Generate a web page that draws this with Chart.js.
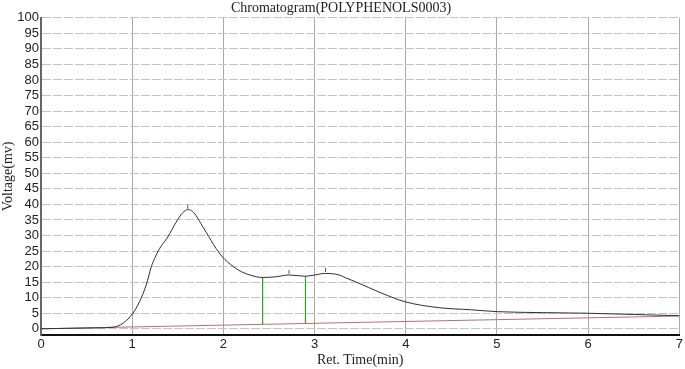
<!DOCTYPE html>
<html>
<head>
<meta charset="utf-8">
<script src="https://cdn.jsdelivr.net/npm/chart.js@4/dist/chart.umd.min.js"></script>
<style>
  html, body { margin: 0; padding: 0; background: #fff; }
  #wrap { width: 685px; height: 369px; }
</style>
</head>
<body>
<div id="wrap"><canvas id="chrom"></canvas></div>
<script>
// signal
var retTime = [0, 0.3, 0.6, 0.79, 0.9, 1.008, 1.08, 1.154, 1.209, 1.245, 1.30, 1.39, 1.482, 1.554, 1.609, 1.65, 1.70, 1.77, 1.81, 1.92, 1.99, 2.045, 2.17, 2.30, 2.43, 2.57, 2.72, 2.90, 3.00, 3.12, 3.27, 3.34, 3.45, 3.59, 3.74, 3.99, 4.36, 4.72, 5.01, 5.5, 5.99, 6.5, 7.0];
var voltage = [0, 0.15, 0.3, 0.5, 1.8, 5.0, 8.7, 14.1, 19.9, 22.6, 25.8, 29.5, 34.3, 37.3, 38.3, 38.0, 36.4, 33.0, 31.1, 25.8, 23.1, 21.5, 18.8, 17.2, 16.5, 16.7, 17.3, 16.9, 17.3, 17.8, 17.3, 16.4, 15.1, 13.3, 11.4, 8.7, 6.8, 6.1, 5.5, 5.2, 5.0, 4.6, 4.2];

// integration baseline
var baseTime = [0, 7];
var baseVolt = [0, 4.1];

// peak drop lines
var dropTime = [2.43, 2.90];
var dropLow = [1.4, 1.7];
var dropHigh = [16.5, 16.9];

// peak apex markers
var apexTime = [1.609, 2.72, 3.12];
var apexVolt = [39.2, 18.3, 18.9];

var yTicks = [];
for (let v = 0; v <= 100; v += 5) yTicks.push(v);

function pts(xs, ys) {
    return xs.map(function (x, i) { return { x: x, y: ys[i] }; });
}

var datasets = [
    {
        data: pts(retTime, voltage),
        borderColor: "#303030",
        borderWidth: 1,
        pointRadius: 0,
        cubicInterpolationMode: "monotone",
        order: 1
    },
    {
        data: pts(baseTime, baseVolt),
        borderColor: "#b87070",
        borderWidth: 1,
        pointRadius: 0,
        order: 2
    }
];
for (let i = 0; i < dropTime.length; i++) {
    datasets.push({
        data: [{ x: dropTime[i], y: dropLow[i] }, { x: dropTime[i], y: dropHigh[i] }],
        borderColor: "#22aa22",
        backgroundColor: "#22aa22",
        borderWidth: 1.2,
        pointRadius: 0,
        order: 3
    });
}
datasets.push({
    data: pts(apexTime, apexVolt),
    showLine: false,
    pointStyle: "line",
    rotation: 90,
    pointRadius: 2,
    pointBorderColor: "#3a4ad8",
    pointBackgroundColor: "#3a4ad8",
    pointBorderWidth: 1,
    order: 0
});

Chart.defaults.font.family = "'Liberation Sans', Arial, sans-serif";
Chart.defaults.color = "#222";

new Chart(document.getElementById("chrom"), {
    type: "line",
    data: { datasets: datasets },
    options: {
        responsive: true,
        maintainAspectRatio: false,
        animation: false,
        layout: { padding: { right: 3, top: 0 } },
        plugins: {
            legend: { display: false },
            tooltip: { enabled: false },
            title: {
                display: true,
                text: "Chromatogram(POLYPHENOLS0003)",
                font: { family: "'Liberation Serif', 'Times New Roman', serif", size: 14, weight: "normal" },
                color: "#222",
                padding: { top: 0, bottom: 1 }
            }
        },
        scales: {
            x: {
                type: "linear",
                min: 0,
                max: 7,
                ticks: { stepSize: 1, font: { size: 13 }, padding: 2, maxRotation: 0 },
                grid: { color: "#a8a8a8", lineWidth: 1, drawTicks: false },
                border: { color: "#111", width: 2 },
                title: {
                    display: true,
                    text: "Ret. Time(min)",
                    font: { family: "'Liberation Serif', 'Times New Roman', serif", size: 14 },
                    padding: { top: 0, bottom: 0 }
                },
                afterFit: function (s) { s.height = 34; }
            },
            y: {
                min: -2,
                max: 100,
                afterBuildTicks: function (s) {
                    s.ticks = yTicks.map(function (v) { return { value: v }; });
                },
                ticks: { font: { size: 13 }, padding: 2, autoSkip: false },
                grid: { color: "#c4c4c4", lineWidth: 1, drawTicks: false },
                border: { color: "#666", width: 2, dash: [9, 2] },
                title: {
                    display: true,
                    text: "Voltage(mv)",
                    font: { family: "'Liberation Serif', 'Times New Roman', serif", size: 14 },
                    padding: { top: 0, bottom: 0 }
                },
                afterFit: function (s) { s.width = 41; }
            }
        }
    }
});
</script>
</body>
</html>
